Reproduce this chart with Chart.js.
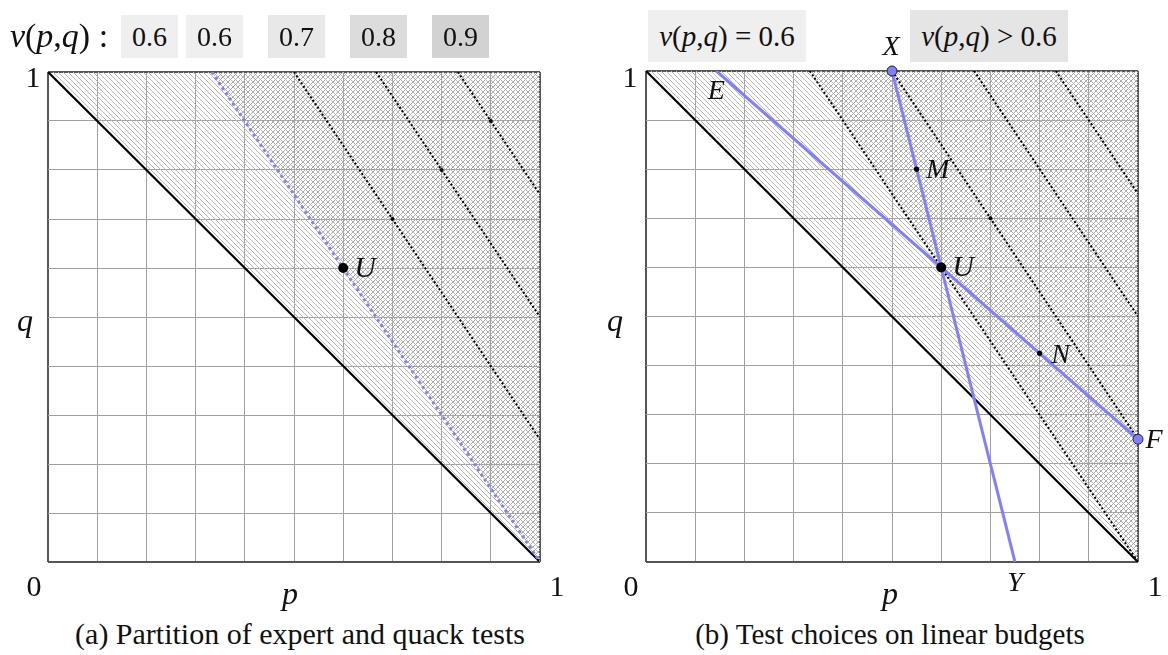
<!DOCTYPE html>
<html>
<head>
<meta charset="utf-8">
<script src="https://cdn.jsdelivr.net/npm/chart.js@4/dist/chart.umd.min.js"></script>
<style>
  html, body { margin: 0; padding: 0; background: #fff; }
  #page { position: relative; width: 1168px; height: 655px; overflow: hidden; font-family: "Liberation Serif", "DejaVu Serif", serif; color: #111; }
  canvas { position: absolute; }
  .lbl { position: absolute; transform: translate(-50%, -50%); white-space: nowrap; line-height: 1; font-family: "Liberation Serif", "DejaVu Serif", serif; }
  .box { position: absolute; display: flex; align-items: center; justify-content: center; font-family: "Liberation Serif", "DejaVu Serif", serif; white-space: nowrap; }
  i { font-style: italic; }
</style>
</head>
<body>
<div id="page">
  <canvas id="leftChart" width="592" height="590"></canvas>
  <canvas id="rightChart" width="592" height="591"></canvas>
  <div id="texts"></div>
</div>
<script>
// values (p on x, q on y, both 0..1)
const tickLabels = ['0', '1'];
const legendLevels = ['0.6', '0.6', '0.7', '0.8', '0.9'];
const diagonal = [{x: 0, y: 1}, {x: 1, y: 0}];
const level06 = [{x: 0.333, y: 1}, {x: 1, y: 0}];
const level07 = [{x: 0.5, y: 1}, {x: 1, y: 0.25}];
const level08 = [{x: 0.667, y: 1}, {x: 1, y: 0.5}];
const level09 = [{x: 0.833, y: 1}, {x: 1, y: 0.75}];
const levelMarksLeft = [{x: 0.7, y: 0.7}, {x: 0.8, y: 0.8}, {x: 0.9, y: 0.9}];
const levelMarksRight = [{x: 0.7, y: 0.7}];
const pointU = [{x: 0.6, y: 0.6}];
const budgetXY = [{x: 0.5, y: 1}, {x: 0.75, y: 0}];
const budgetEF = [{x: 0.143, y: 1}, {x: 1, y: 0.25}];
const pointsMN = [{x: 0.55, y: 0.8}, {x: 0.8, y: 0.425}];
const endsXF = [{x: 0.5, y: 1}, {x: 1, y: 0.25}];

const blue = '#8080ff';

// point names per chart: [text, p, q]
const namesLeft = [['U', 0.6, 0.6]];
const namesRight = [['U', 0.6, 0.6], ['X', 0.5, 1], ['E', 0.143, 1], ['M', 0.55, 0.8],
                    ['N', 0.8, 0.425], ['F', 1, 0.25], ['Y', 0.75, 0]];
const nameOffsets = { U: [22, 1, 30], X: [-1, -23, 28], E: [0, 21, 28], M: [21, 1, 28],
                      N: [21, 2, 28], F: [16, 1, 28], Y: [0, 22, 28] };

// crisp pixel hatching tiles
function makeHatch(canvas, dir, color, size) {
    const tile = document.createElement('canvas');
    tile.width = size;
    tile.height = size;
    const g = tile.getContext('2d');
    g.fillStyle = color;
    for (let i = 0; i < size; i++) {
        if (dir === 'back') g.fillRect(i, i, 1, 1);
        else g.fillRect(size - 1 - i, i, 1, 1);
    }
    return canvas.getContext('2d').createPattern(tile, 'repeat');
}

function axis() {
    return {
        type: 'linear', min: 0, max: 1,
        ticks: { display: false, stepSize: 0.1 },
        border: { display: false },
        grid: {
            drawTicks: false,
            color: c => (c.tick.value === 0 || c.tick.value === 1) ? '#555' : '#a0a0a0',
            lineWidth: c => (c.tick.value === 0 || c.tick.value === 1) ? 2 : 1
        }
    };
}

function line(data, color, width, dash, extra) {
    return Object.assign({
        data: data, borderColor: color, borderWidth: width, borderDash: dash || [],
        pointRadius: 0, fill: false, tension: 0, showLine: true
    }, extra || {});
}

function dots(data, color, radius, extra) {
    return Object.assign({
        data: data, showLine: false, pointRadius: radius, pointHoverRadius: radius,
        pointBackgroundColor: color, pointBorderColor: '#222', pointBorderWidth: 0,
        clip: false
    }, extra || {});
}

// draws the point names next to their points
const pointNames = {
    id: 'pointNames',
    afterDatasetsDraw(chart) {
        const names = chart.canvas.id === 'leftChart' ? namesLeft : namesRight;
        const ctx = chart.ctx;
        ctx.save();
        ctx.fillStyle = '#111';
        ctx.textAlign = 'center';
        ctx.textBaseline = 'middle';
        names.forEach(n => {
            const off = nameOffsets[n[0]];
            ctx.font = 'italic ' + off[2] + 'px "Liberation Serif", serif';
            const px = chart.scales.x.getPixelForValue(n[1]) + off[0];
            const py = chart.scales.y.getPixelForValue(n[2]) + off[1];
            ctx.fillText(n[0], px, py);
        });
        ctx.restore();
    }
};

function baseOptions() {
    return {
        responsive: false,
        animation: false,
        layout: { padding: 50 },
        scales: { x: axis(), y: axis() },
        plugins: { legend: { display: false }, tooltip: { enabled: false } }
    };
}

const leftCanvas = document.getElementById('leftChart');
const rightCanvas = document.getElementById('rightChart');
const dotted = [2, 2.2];

const leftChart = new Chart(leftCanvas, {
    type: 'line',
    plugins: [pointNames],
    data: {
        datasets: [
            dots(pointU, '#000', 5),
            dots(levelMarksLeft, '#000', 2),
            line(level06, blue, 3, [3, 3.2]),
            line(level07, '#000', 2, dotted),
            line(level08, '#000', 2, dotted),
            line(level09, '#000', 2, dotted),
            line(level06, 'rgba(0,0,0,0)', 0, [], { fill: 'end', backgroundColor: makeHatch(leftCanvas, 'fwd', '#a8a8a8', 5) }),
            line(diagonal, '#000', 2.2, [], { fill: 'end', backgroundColor: makeHatch(leftCanvas, 'back', '#b8b8b8', 5) })
        ]
    },
    options: baseOptions()
});

const rightChart = new Chart(rightCanvas, {
    type: 'line',
    plugins: [pointNames],
    data: {
        datasets: [
            dots(endsXF, blue, 5, { pointBorderWidth: 1 }),
            dots(pointU, '#000', 5),
            dots(pointsMN, '#000', 2.6),
            dots(levelMarksRight, '#000', 2),
            line(budgetXY, blue, 3),
            line(budgetEF, blue, 3),
            line(level06, '#000', 2, dotted),
            line(level07, '#000', 2, dotted),
            line(level08, '#000', 2, dotted),
            line(level09, '#000', 2, dotted),
            line(level06, 'rgba(0,0,0,0)', 0, [], { fill: 'end', backgroundColor: makeHatch(rightCanvas, 'fwd', '#a8a8a8', 5) }),
            line(diagonal, '#000', 2.2, [], { fill: 'end', backgroundColor: makeHatch(rightCanvas, 'back', '#b8b8b8', 5) })
        ]
    },
    options: baseOptions()
});

// line the plot areas up with the reference
function place(chart, left, top) {
    const a = chart.chartArea;
    chart.canvas.style.left = (left - a.left) + 'px';
    chart.canvas.style.top = (top - a.top) + 'px';
}
place(leftChart, 48, 72);
place(rightChart, 646, 71);

// text around the plots
const texts = document.getElementById('texts');
function addText(html, x, y, size) {
    const d = document.createElement('div');
    d.className = 'lbl';
    d.style.left = x + 'px';
    d.style.top = y + 'px';
    d.style.fontSize = size + 'px';
    d.innerHTML = html;
    texts.appendChild(d);
}
function addBox(html, x, y, w, h, bg, size) {
    const d = document.createElement('div');
    d.className = 'box';
    Object.assign(d.style, { left: x + 'px', top: y + 'px', width: w + 'px', height: h + 'px', background: bg, fontSize: size + 'px' });
    d.innerHTML = html;
    texts.appendChild(d);
}

// left panel
addText('<i>v</i>(<i>p</i>,<i>q</i>) :', 59, 36, 34);
const boxX = [121, 186, 268, 350, 432];
const boxShade = ['#efefef', '#efefef', '#e8e8e8', '#dcdcdc', '#d2d2d2'];
legendLevels.forEach((lv, i) => addBox(lv, boxX[i], 15, 57, 43, boxShade[i], 28));
addText(tickLabels[1], 33, 77, 30);
addText('<i>q</i>', 25, 320, 32);
addText(tickLabels[0], 34, 586, 30);
addText('<i>p</i>', 290, 593, 32);
addText(tickLabels[1], 557, 586, 30);
addText('(a) Partition of expert and quack tests', 300, 634, 30);

// right panel
addBox('<span><i>v</i>(<i>p</i>,<i>q</i>) = 0.6</span>', 648, 10, 158, 52, '#efefef', 29);
addBox('<span><i>v</i>(<i>p</i>,<i>q</i>) &gt; 0.6</span>', 910, 10, 158, 52, '#e5e5e5', 29);
addText(tickLabels[1], 630, 77, 30);
addText('<i>q</i>', 615, 320, 32);
addText(tickLabels[0], 631, 586, 30);
addText('<i>p</i>', 890, 593, 32);
addText(tickLabels[1], 1155, 586, 30);
addText('(b) Test choices on linear budgets', 890, 634, 29);
</script>
</body>
</html>
